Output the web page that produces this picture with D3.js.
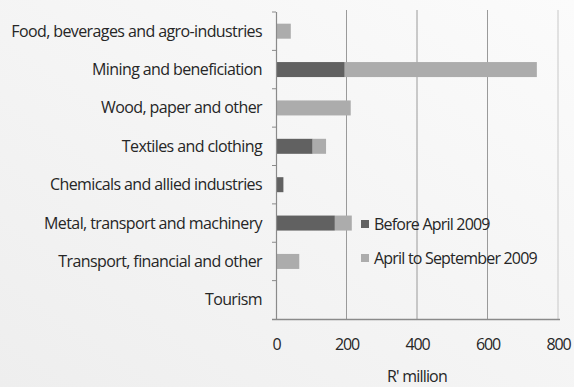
<!DOCTYPE html>
<html><head><meta charset="utf-8">
<script src="https://cdn.jsdelivr.net/npm/d3@7"></script>
<style>
body{margin:0;background:#f1f1f1;}
svg{display:block;font-family:"Open Sans",sans-serif;}
</style></head>
<body><svg id="c" width="574" height="387"></svg>
<script>
const categories = ["Food, beverages and agro-industries","Mining and beneficiation","Wood, paper and other","Textiles and clothing","Chemicals and allied industries","Metal, transport and machinery","Transport, financial and other","Tourism"];
const beforeApril = [0, 195, 0, 104, 21, 167, 0, 0];
const aprilToSept = [42, 545, 212, 38, 0, 48, 66, 0];
const seriesNames = ["Before April 2009","April to September 2009"];
const xTicks = [0,200,400,600,800];
const xTitle = "R' million";

const svg = d3.select("#c");
const defs = svg.append("defs");
const g0 = defs.append("linearGradient").attr("id","bg").attr("x1","0").attr("y1","1").attr("x2","1").attr("y2","0");
g0.append("stop").attr("offset","0").attr("stop-color","#eeeeee");
g0.append("stop").attr("offset","1").attr("stop-color","#fbfbfb");
svg.append("rect").attr("width",574).attr("height",387).attr("fill","url(#bg)");

const x = d3.scaleLinear().domain([0,800]).range([276,558]);
const band = d3.scaleBand().domain(categories).range([12,319]);

// gridlines
svg.append("g").selectAll("line").data(xTicks.slice(1)).join("line")
  .attr("x1",d=>x(d)).attr("x2",d=>x(d)).attr("y1",10).attr("y2",319)
  .attr("stroke",d=>d===800?"#c8c8c8":"#9a9a9a").attr("stroke-width",1);

const stack = d3.stack().keys([0,1]).value((d,k)=>k===0?beforeApril[d]:aprilToSept[d])(d3.range(categories.length));
const colors = ["#616161","#acacac"];
stack.forEach((s,k)=>{
  svg.append("g").attr("fill",colors[k]).selectAll("rect").data(s).join("rect")
    .attr("x",d=>x(d[0])).attr("width",d=>x(d[1])-x(d[0]))
    .attr("y",(d,i)=>band(categories[i])+band.bandwidth()/2-7.5).attr("height",15);
});

const txt = "#262626";
// axes
const ax = svg.append("g").attr("transform","translate(0,319)")
  .call(d3.axisBottom(x).tickValues(xTicks).tickSize(0).tickPadding(20));
ax.select(".domain").attr("stroke","#8a8a8a").attr("stroke-width",1.3).attr("d","M272,0.5H560");
ax.selectAll("text").attr("font-size",16).attr("fill",txt).attr("letter-spacing","-1.2px").attr("font-family","Open Sans");

const ay = svg.append("g").attr("transform","translate(276,0)")
  .call(d3.axisLeft(band).tickSize(0).tickFormat(""));
ay.select(".domain").attr("stroke","#8a8a8a").attr("stroke-width",1.2).attr("d","M0.5,12V319");
svg.append("g").selectAll("line").data(categories).join("line")
  .attr("x1",272).attr("x2",276).attr("y1",d=>band(d)).attr("y2",d=>band(d))
  .attr("stroke","#8a8a8a");

svg.append("g").selectAll("text").data(categories).join("text")
  .attr("x",262).attr("y",d=>band(d)+band.bandwidth()/2+5.5)
  .attr("text-anchor","end").attr("font-size",16).attr("fill",txt)
  .attr("letter-spacing","-0.6px").text(d=>d);

svg.append("text").attr("x",417).attr("y",382).attr("text-anchor","middle")
  .attr("font-size",16).attr("fill",txt).attr("letter-spacing","-0.8px").text(xTitle);

// legend
const leg = svg.append("g");
seriesNames.forEach((n,i)=>{
  const yy = 224 + i*34;
  leg.append("rect").attr("x",361).attr("y",yy-4).attr("width",8).attr("height",8).attr("fill",colors[i]);
  leg.append("text").attr("x",374).attr("y",yy+5.5).attr("font-size",16).attr("fill",txt)
    .attr("letter-spacing","-0.8px").text(n);
});
</script></body></html>
